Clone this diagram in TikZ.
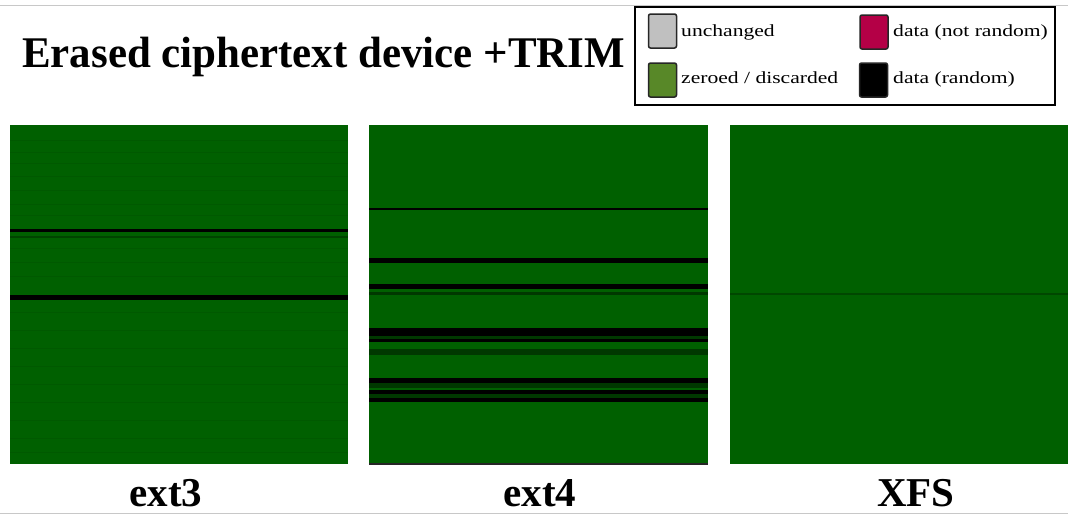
\documentclass[tikz,border=0pt]{standalone}
\usepackage{fontspec}
\usepackage{graphicx}
\setmainfont{Liberation Serif}
\definecolor{blockgreen}{RGB}{0,96,0}
\definecolor{faintgreen}{RGB}{0,89,0}
\definecolor{darkgreen}{RGB}{0,56,0}
\definecolor{rulegray}{RGB}{200,200,200}
\definecolor{swgray}{RGB}{192,192,192}
\definecolor{swgreen}{RGB}{88,136,40}
\definecolor{swred}{RGB}{180,0,70}
\tikzset{
  titletext/.style={font=\fontsize{42.5}{50}\selectfont\bfseries, inner sep=0pt},
  fslabel/.style={font=\fontsize{41}{48}\selectfont\bfseries, inner sep=0pt, anchor=base},
  legtext/.style={font=\fontsize{17}{20}\selectfont, inner sep=0pt, anchor=base west},
  swatch/.style={draw=black!85, line width=1.5pt, rounded corners=2pt,
    minimum width=28pt, minimum height=34pt, inner sep=0pt},
  panel/.style={fill=blockgreen},
}
% horizontal band across a panel: x0, x1, y0, y1, colour
\newcommand{\band}[5]{\fill[#5] (#1,#3) rectangle (#2,#4);}
\begin{document}
\begin{tikzpicture}[x=1pt,y=-1pt]
\useasboundingbox (0,0) rectangle (1068,515);

% rules at top and bottom
\draw[rulegray, line width=1pt] (0,5.5) -- (1068,5.5);
\draw[rulegray, line width=1pt] (0,513) -- (1068,513);

% title
\node[titletext, anchor=base west] (title) at (22,67) {\scalebox{1.01}[1.03]{Erased ciphertext device +TRIM}};

% legend
\draw[line width=2pt, fill=white] (635,7) rectangle (1055,105);
\node[swatch, fill=swgray]  (sw1) at (662.5,31) {};
\node[swatch, fill=swred]   (sw2) at (874,32) {};
\node[swatch, fill=swgreen] (sw3) at (662.5,80) {};
\node[swatch, fill=black]   (sw4) at (873.5,80) {};
\node[legtext] (l1) at (681,36) {\scalebox{1.27}[1]{unchanged}};
\node[legtext] (l2) at (893,36) {\scalebox{1.27}[1]{data (not random)}};
\node[legtext] (l3) at (681,83) {\scalebox{1.27}[1]{zeroed / discarded}};
\node[legtext] (l4) at (893,83) {\scalebox{1.27}[1]{data (random)}};

% ext3 panel
\fill[panel] (10,125) rectangle (348,464);
\foreach \y in {140,152,163,176,190,204,215,248,262,276,312,330,348,366,384,402,420,438,452}
  {\band{10}{348}{\y}{\y+0.8}{faintgreen}}
\band{10}{348}{228.5}{232}{black}
\band{10}{348}{235.5}{237.5}{darkgreen!70!blockgreen}
\band{10}{348}{294.5}{299.5}{black}

% ext4 panel
\fill[panel] (369,125) rectangle (708,464);
\band{369}{708}{208}{210}{black}
\band{369}{708}{258}{263}{black}
\band{369}{708}{284}{289}{black}
\band{369}{708}{292}{294.5}{darkgreen}
\band{369}{708}{328}{336}{black}
\band{369}{708}{336}{338.5}{darkgreen}
\band{369}{708}{338.5}{341.5}{black}
\band{369}{708}{349}{355}{darkgreen}
\band{369}{708}{378}{383}{black}
\band{369}{708}{383}{388}{darkgreen}
\band{369}{708}{389.5}{394}{black}
\band{369}{708}{394}{397.5}{darkgreen}
\band{369}{708}{397.5}{402}{black}
\band{369}{708}{462.5}{464.5}{black!85}

% XFS panel
\fill[panel] (730,125) rectangle (1068,464);
\band{730}{1068}{292.5}{294.5}{faintgreen!80!black}

% file system names
\node[fslabel] (n1) at (166,506) {ext3};
\node[fslabel] (n2) at (540,506) {ext4};
\node[fslabel] (n3) at (916,506) {XFS};
\end{tikzpicture}
\end{document}
